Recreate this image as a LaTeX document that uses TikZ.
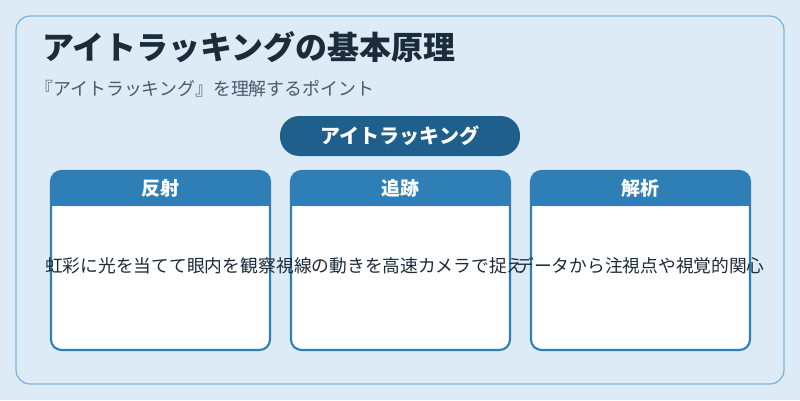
\documentclass[tikz,border=0pt]{standalone}
\usepackage{fontspec}
\setmainfont{Noto Sans CJK JP}
\definecolor{bg}{HTML}{DCEBF6}
\definecolor{frame}{HTML}{7DB3D8}
\definecolor{ttl}{HTML}{1B2B3A}
\definecolor{sub}{HTML}{4A5A6A}
\definecolor{pill}{HTML}{1F5F8B}
\definecolor{hdr}{HTML}{2E7FB5}
\begin{document}
\begin{tikzpicture}[x=0.02cm,y=-0.02cm,
  hdrtext/.style={text=white,font=\fontsize{10.8pt}{12pt}\selectfont\bfseries},
  bodytext/.style={text=ttl,font=\fontsize{10.1pt}{12pt}\selectfont}]
\useasboundingbox (0,0) rectangle (800,400);
\fill[bg] (0,0) rectangle (800,400);
\draw[frame,line width=0.7pt,rounded corners=8pt] (16,16) rectangle (784,384);
\node[anchor=west,inner sep=0pt,text=ttl,font=\fontsize{18.2pt}{20pt}\selectfont\bfseries] (title) at (42,47) {アイトラッキングの基本原理};
\node[anchor=west,inner sep=0pt,text=sub,font=\fontsize{10.2pt}{12pt}\selectfont] (subt) at (35,89) {『アイトラッキング』を理解するポイント};
\node[fill=pill,rounded corners=11pt,minimum width=240*0.02cm,minimum height=40*0.02cm,text=white,font=\fontsize{11.4pt}{13pt}\selectfont\bfseries] (pl) at (400,136) {アイトラッキング};
\foreach \x/\h/\b/\n in {51/反射/虹彩に光を当てて眼内を観察/a,291/追跡/視線の動きを高速カメラで捉え/b,531/解析/データから注視点や視覚的関心/c}{
  \fill[white,rounded corners=6pt] (\x,171) rectangle (\x+219,350);
  \fill[hdr,rounded corners=6pt] (\x,171) rectangle (\x+219,206);
  \fill[hdr] (\x,195) rectangle (\x+219,206);
  \draw[hdr,line width=1.2pt,rounded corners=6pt] (\x,171) rectangle (\x+219,350);
  \node[hdrtext] (h\n) at (\x+109.5,188) {\h};
  \node[bodytext] (t\n) at (\x+109.5,266) {\b};
}
\end{tikzpicture}
\end{document}
